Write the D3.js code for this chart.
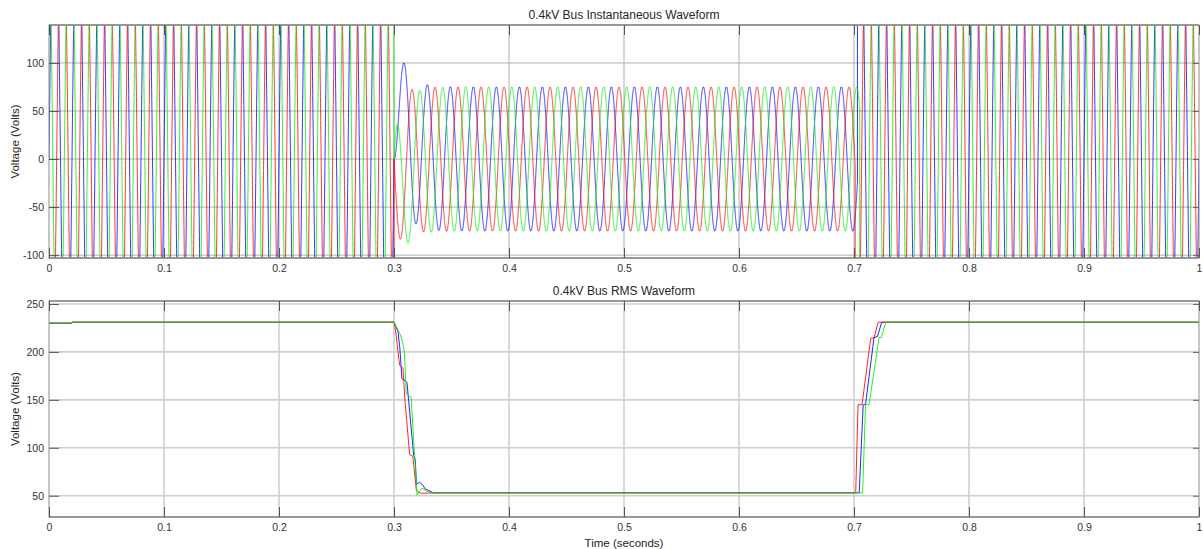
<!DOCTYPE html>
<html><head><meta charset="utf-8">
<script src="https://cdn.jsdelivr.net/npm/d3@7"></script>
<style>
html,body{margin:0;padding:0;background:#fff;}
svg{display:block;font-family:"Liberation Sans",Arial,Helvetica,sans-serif;}
</style></head><body>
<svg id="chart" width="1203" height="549"></svg>
<script>
// ---- axis ticks ----
const timeTicks = [0, 0.1, 0.2, 0.3, 0.4, 0.5, 0.6, 0.7, 0.8, 0.9, 1];
const timeTickLabels = ["0", "0.1", "0.2", "0.3", "0.4", "0.5", "0.6", "0.7", "0.8", "0.9", "1"];
const instTicks = [-100, -50, 0, 50, 100];
const instTickLabels = ["-100", "-50", "0", "50", "100"];
const rmsTicks = [50, 100, 150, 200, 250];
const rmsTickLabels = ["50", "100", "150", "200", "250"];

// ---- phase sinusoid parameters (A, B, C) ----
const phaseNames = ["A", "B", "C"];
const systemFrequency = 50;                   // Hz
const nominalPeak = [325, 325, 325];          // V, healthy bus
const nominalAngle = [-120, 120, 0];          // degrees at t = 0
const faultInception = 0.3;                   // s
const faultPeak = [75, 75, 75];               // V, sagged bus
const faultPeakTime = [0.3157, 0.3224, 0.3290]; // s, first steady crest in the sag
const offsetDecay = 0.0084;                   // s, DC offset time constant
const clearingTime = [0.7010, 0.7050, 0.7030];  // s, per-phase recovery instant

// ---- RMS traces ----
const rmsTimeA = [0, 0.02, 0.02, 0.300, 0.3010, 0.3020, 0.3035, 0.3049, 0.3078, 0.3095, 0.3136, 0.3164, 0.3194, 0.3214, 0.3240, 0.3290, 0.3400, 0.7015, 0.7035, 0.7070, 0.7145, 0.7175, 0.7210, 1];
const rmsValueA = [230, 230, 231, 231, 225, 216, 200, 186, 183, 150, 93, 91, 56, 53.5, 52.5, 52.8, 53, 53, 145, 145, 214, 215, 231, 231];
const rmsTimeB = [0, 0.02, 0.02, 0.300, 0.3030, 0.3055, 0.3075, 0.3090, 0.3107, 0.3148, 0.3170, 0.3190, 0.3200, 0.3225, 0.3243, 0.3280, 0.3316, 0.3400, 0.7075, 0.7100, 0.7131, 0.7218, 0.7238, 0.7276, 1];
const rmsValueB = [230, 230, 231, 231, 224, 218, 210, 200, 156, 153, 110, 72, 50.5, 55, 58, 55, 53, 53, 53, 145, 145, 215, 215, 231, 231];
const rmsTimeC = [0, 0.02, 0.02, 0.300, 0.3025, 0.3035, 0.3050, 0.3069, 0.3100, 0.3113, 0.3171, 0.3185, 0.3195, 0.3223, 0.3250, 0.3272, 0.3345, 0.3400, 0.7045, 0.7080, 0.7100, 0.7174, 0.7204, 0.7241, 1];
const rmsValueC = [230, 230, 231, 231, 224, 221, 205, 172, 170, 168, 92, 88, 62, 64, 61, 57, 53, 53, 53, 145, 145, 215, 216, 231, 231];

// ---- styling ----
const phaseColor = {A: "#ff0000", B: "#00ee00", C: "#0000ff"};
const drawOrder = [2, 0, 1];  // C, A, B

const svg = d3.select("#chart");
const left = 49, right = 1199;

const x = d3.scaleLinear().domain([0, 1]).range([left, right]);
const yInst = d3.scaleLinear().domain([-103, 139.5]).range([258, 25]);
const yRms = d3.scaleLinear().domain([27.8, 253.1]).range([517, 301]);

const omega = 2 * Math.PI * systemFrequency;

// instantaneous voltage of one phase
function phaseVoltage(k, t, afterBreak) {
  const healthy = nominalPeak[k] * Math.sin(omega * t + nominalAngle[k] * Math.PI / 180);
  if (t < faultInception || (t === faultInception && !afterBreak)) return healthy;
  if (t > clearingTime[k] || (t === clearingTime[k] && afterBreak)) return healthy;
  const steady = faultPeak[k] * Math.cos(omega * (t - faultPeakTime[k]));
  const offset0 = -faultPeak[k] * Math.cos(omega * (faultInception - faultPeakTime[k]));
  return steady + offset0 * Math.exp(-(t - faultInception) / offsetDecay);
}

function instSamples(k) {
  const pts = [];
  const step = 0.000025;
  const breaks = [faultInception, clearingTime[k]];
  let bi = 0;
  for (let i = 0; i * step <= 1 + 1e-12; i++) {
    const t = i * step;
    while (bi < breaks.length && breaks[bi] <= t) {
      pts.push([breaks[bi], phaseVoltage(k, breaks[bi], false)]);
      pts.push([breaks[bi], phaseVoltage(k, breaks[bi], true)]);
      bi++;
    }
    pts.push([t, phaseVoltage(k, t, true)]);
  }
  return pts;
}

function drawPanel(y, yTicks, yLabels, top, bottom, title, gridStyle) {
  const g = svg.append("g");
  const clipId = "clip" + top;
  svg.append("clipPath").attr("id", clipId)
    .append("rect").attr("x", left).attr("y", top).attr("width", right - left).attr("height", bottom - top);

  // grid
  g.selectAll(".vg").data(timeTicks.slice(1, -1)).join("line")
    .attr("x1", d => x(d)).attr("x2", d => x(d)).attr("y1", top).attr("y2", bottom)
    .attr("stroke", gridStyle.color).attr("stroke-width", gridStyle.width);
  g.selectAll(".hg").data(yTicks).join("line")
    .attr("x1", left).attr("x2", right).attr("y1", d => y(d)).attr("y2", d => y(d))
    .attr("stroke", gridStyle.color).attr("stroke-width", gridStyle.width);

  const plot = svg.append("g").attr("clip-path", `url(#${clipId})`);

  // title
  svg.append("text").attr("x", (left + right) / 2).attr("y", top - 6)
    .attr("text-anchor", "middle").attr("font-size", 12).attr("fill", "#262626").text(title);

  // y label
  svg.append("text").attr("transform", `translate(19,${(top + bottom) / 2}) rotate(-90)`)
    .attr("text-anchor", "middle").attr("font-size", 11.5).attr("fill", "#262626").text("Voltage (Volts)");

  return {plot, g, top, bottom, y, yTicks, yLabels};
}

function finishPanel(p) {
  const {top, bottom, y, yTicks, yLabels} = p;
  const ax = svg.append("g");
  // frame
  ax.append("rect").attr("x", left).attr("y", top).attr("width", right - left).attr("height", bottom - top)
    .attr("fill", "none").attr("stroke", "#8c8c8c").attr("stroke-width", 1);
  ax.append("line").attr("x1", left).attr("x2", right).attr("y1", top).attr("y2", top)
    .attr("stroke", "#888").attr("stroke-width", 1.6);
  ax.append("line").attr("x1", left).attr("x2", right).attr("y1", bottom).attr("y2", bottom)
    .attr("stroke", "#888").attr("stroke-width", 1.6);

  // bottom axis via d3
  const xAxis = d3.axisBottom(x).tickValues(timeTicks).tickFormat((d, i) => timeTickLabels[i])
    .tickSizeInner(-10).tickSizeOuter(0).tickPadding(7);
  const gx = ax.append("g").attr("transform", `translate(0,${bottom})`).call(xAxis);
  gx.select(".domain").remove();
  gx.selectAll("line").attr("stroke", "#555");
  gx.selectAll("text").attr("font-size", 10.5).attr("fill", "#333")
    .attr("font-family", "Liberation Sans, Arial, sans-serif");

  // top ticks
  const xTop = d3.axisTop(x).tickValues(timeTicks).tickFormat("").tickSizeInner(-10).tickSizeOuter(0);
  const gxt = ax.append("g").attr("transform", `translate(0,${top})`).call(xTop);
  gxt.select(".domain").remove();
  gxt.selectAll("line").attr("stroke", "#555");

  // left axis
  const yAxis = d3.axisLeft(y).tickValues(yTicks).tickFormat((d, i) => yLabels[i])
    .tickSizeInner(-10).tickSizeOuter(0).tickPadding(5);
  const gy = ax.append("g").attr("transform", `translate(${left},0)`).call(yAxis);
  gy.select(".domain").remove();
  gy.selectAll("line").attr("stroke", "#555");
  gy.selectAll("text").attr("font-size", 10.5).attr("fill", "#333")
    .attr("font-family", "Liberation Sans, Arial, sans-serif");

  // right ticks
  const yRight = d3.axisRight(y).tickValues(yTicks).tickFormat("").tickSizeInner(-6).tickSizeOuter(0);
  const gyr = ax.append("g").attr("transform", `translate(${right},0)`).call(yRight);
  gyr.select(".domain").remove();
  gyr.selectAll("line").attr("stroke", "#666");
}

// ---- instantaneous panel ----
const p1 = drawPanel(yInst, instTicks, instTickLabels, 25, 258,
  "0.4kV Bus Instantaneous Waveform", {color: "#b0b0b0", width: 1});
const instLine = d3.line().x(d => x(d[0])).y(d => yInst(d[1]));
drawOrder.forEach(k => {
  p1.plot.append("path")
    .attr("d", instLine(instSamples(k)))
    .attr("fill", "none")
    .attr("stroke", phaseColor[phaseNames[k]])
    .attr("stroke-width", 1)
    .attr("stroke-opacity", 0.8);
});
finishPanel(p1);

// ---- RMS panel ----
const p2 = drawPanel(yRms, rmsTicks, rmsTickLabels, 301, 517,
  "0.4kV Bus RMS Waveform", {color: "#d0d0d0", width: 1.6});
const rmsSeries = [
  d3.zip(rmsTimeA, rmsValueA),
  d3.zip(rmsTimeB, rmsValueB),
  d3.zip(rmsTimeC, rmsValueC)
];
const rmsLine = d3.line().x(d => x(d[0])).y(d => yRms(d[1]));
drawOrder.forEach(k => {
  p2.plot.append("path")
    .attr("d", rmsLine(rmsSeries[k]))
    .attr("fill", "none")
    .attr("stroke", phaseColor[phaseNames[k]])
    .attr("stroke-width", 1)
    .attr("stroke-opacity", 0.85);
});
finishPanel(p2);

// x label
svg.append("text").attr("x", (left + right) / 2).attr("y", 547)
  .attr("text-anchor", "middle").attr("font-size", 11.5).attr("fill", "#262626").text("Time (seconds)");
</script>
</body></html>
